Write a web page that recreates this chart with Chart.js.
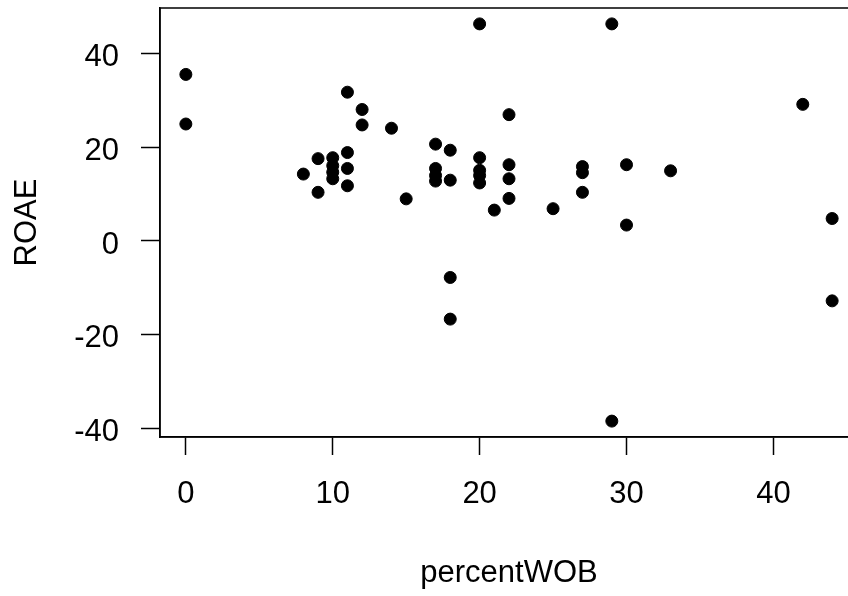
<!DOCTYPE html>
<html>
<head>
<meta charset="utf-8">
<script src="https://cdn.jsdelivr.net/npm/chart.js@4/dist/chart.umd.min.js"></script>
<style>
  html, body { margin: 0; padding: 0; background: #fff; overflow: hidden; }
  #wrap { width: 848px; height: 596px; overflow: hidden; }
</style>
</head>
<body>
<div id="wrap"><canvas id="scatter" width="870" height="596"></canvas></div>
<script>
// percentWOB values (x) and ROAE values (y)
const percentWOB = [0, 0, 8, 9, 9, 10, 10, 10, 10, 11, 11, 11, 11, 12, 12, 14, 15,
    17, 17, 17, 17, 18, 18, 18, 18, 20, 20, 20, 20, 20, 21, 22, 22, 22, 22,
    25, 27, 27, 27, 29, 29, 30, 30, 33, 42, 44, 44];
const ROAE = [35.6, 25.0, 14.3, 17.6, 10.4, 17.8, 16.1, 14.7, 13.3, 31.8, 18.9, 15.5, 11.8, 28.1, 24.8, 24.1, 9.0,
    20.7, 15.5, 14.0, 12.8, 19.4, 13.0, -7.8, -16.7, 46.4, 17.8, 15.1, 14.0, 12.4, 6.6, 27.0, 16.3, 13.3, 9.1,
    6.9, 15.9, 14.6, 10.4, 46.4, -38.5, 16.3, 3.4, 15.0, 29.2, 4.8, -12.8];

// tick labels
const xTicks = [0, 10, 20, 30, 40];
const yTicks = [-40, -20, 0, 20, 40];

// R style axis range: data range stretched by 4% each side
function rRange(values) {
    const lo = Math.min(...values);
    const hi = Math.max(...values);
    const pad = (hi - lo) * 0.04;
    return [lo - pad, hi + pad];
}
const [xMin, xMax] = rRange(percentWOB);
const [yMin, yMax] = rRange(ROAE);

const points = percentWOB.map((x, i) => ({ x: x, y: ROAE[i] }));

const fontFamily = "'Liberation Sans', Arial, sans-serif";

// draw the full box around the plot region like base R
const boxPlugin = {
    id: 'box',
    afterDraw(chart) {
        const a = chart.chartArea;
        const ctx = chart.ctx;
        ctx.save();
        ctx.strokeStyle = '#000';
        ctx.lineWidth = 1.5;
        ctx.strokeRect(a.left, a.top, a.right - a.left, a.bottom - a.top);
        ctx.restore();
    }
};

const ctx = document.getElementById('scatter').getContext('2d');
new Chart(ctx, {
    type: 'scatter',
    data: {
        datasets: [{
            label: 'ROAE',
            data: points,
            backgroundColor: '#000',
            borderColor: '#000',
            pointRadius: 6,
            pointBorderWidth: 1,
            pointHoverRadius: 6
        }]
    },
    options: {
        responsive: false,
        animation: false,
        devicePixelRatio: 1,
        layout: {
            padding: { top: 8, right: 12, bottom: 0, left: 0 }
        },
        plugins: {
            legend: { display: false },
            tooltip: { enabled: false }
        },
        scales: {
            x: {
                type: 'linear',
                min: xMin,
                max: xMax,
                afterBuildTicks: scale => {
                    scale.ticks = xTicks.map(v => ({ value: v }));
                },
                afterFit: scale => {
                    scale.height = 159;
                    scale.paddingLeft = 0;
                    scale.paddingRight = 0;
                },
                grid: {
                    drawOnChartArea: false,
                    drawTicks: true,
                    tickLength: 18,
                    tickWidth: 1.5,
                    tickColor: '#000'
                },
                border: { display: true, color: '#000', width: 1.5 },
                ticks: {
                    color: '#000',
                    padding: 21,
                    maxRotation: 0,
                    font: { family: fontFamily, size: 31 }
                },
                title: {
                    display: true,
                    text: 'percentWOB',
                    color: '#000',
                    padding: { top: 0, bottom: 4 },
                    font: { family: fontFamily, size: 31 }
                }
            },
            y: {
                type: 'linear',
                min: yMin,
                max: yMax,
                afterBuildTicks: scale => {
                    scale.ticks = yTicks.map(v => ({ value: v }));
                },
                afterFit: scale => {
                    scale.width = 160;
                    scale.paddingTop = 0;
                    scale.paddingBottom = 0;
                },
                grid: {
                    drawOnChartArea: false,
                    drawTicks: true,
                    tickLength: 19,
                    tickWidth: 1.5,
                    tickColor: '#000'
                },
                border: { display: true, color: '#000', width: 1.5 },
                ticks: {
                    color: '#000',
                    padding: 22,
                    labelOffset: 4,
                    font: { family: fontFamily, size: 31 }
                },
                title: {
                    display: true,
                    text: 'ROAE',
                    color: '#000',
                    padding: { top: 9, bottom: 0 },
                    font: { family: fontFamily, size: 31 }
                }
            }
        }
    },
    plugins: [boxPlugin]
});
</script>
</body>
</html>
